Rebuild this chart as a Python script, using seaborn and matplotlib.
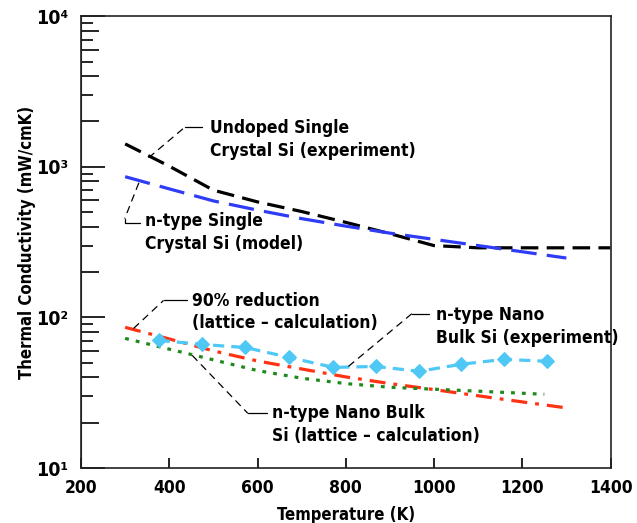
import numpy as np
import pandas as pd
import seaborn as sns
import matplotlib.pyplot as plt
from matplotlib.ticker import FixedLocator, FixedFormatter, NullFormatter

# temperatures (K) and thermal conductivity (mW/cmK)
temp_undoped = [300, 400, 500, 600, 700, 800, 900, 1000, 1100, 1200, 1300, 1400]
k_undoped = [1420, 1010, 700, 585, 505, 428, 360, 300, 290, 290, 290, 290]

temp_single_model = [300, 400, 500, 600, 700, 800, 900, 1000, 1100, 1200, 1300]
k_single_model = [860, 714, 594, 516, 453, 404, 363, 330, 300, 273, 248]

temp_reduction = [300, 400, 500, 600, 700, 800, 900, 1000, 1100, 1200, 1300]
k_reduction = [86, 72, 60, 51.4, 45.5, 40.3, 36.4, 33.2, 30.2, 27.5, 25.1]

temp_nano_lattice = [300, 400, 500, 600, 700, 800, 900, 1000, 1100, 1200, 1250]
k_nano_lattice = [72.6, 61.6, 52.3, 44.4, 39.5, 36.4, 34.4, 33.4, 32.4, 31.4, 30.9]

temp_nano_exp = [376, 474, 572, 672, 772, 868, 966, 1062, 1158, 1255]
k_nano_exp = [70.5, 66.2, 63.2, 54.3, 46.6, 47.3, 43.9, 48.9, 52.7, 51.2]

x_ticks = [200, 400, 600, 800, 1000, 1200, 1400]
y_ticks = [10, 100, 1000, 10000]
y_ticklabels = ['10\u00b9', '10\u00b2', '10\u00b3', '10\u2074']

# annotation labels with leader points (T, k): dashed part, solid part, text anchor
notes = [
    ("Undoped Single\nCrystal Si (experiment)",
     [(353, 1148), (436, 1841)], [(436, 1841), (475, 1841)], (493, 1521)),
    ("n-type Single\nCrystal Si (model)",
     [(331, 783), (299, 453)], [(299, 453), (299, 426), (333, 426)], (344, 366)),
    ("90% reduction\n(lattice \u2013 calculation)",
     [(319, 84.5), (387, 129.7)], [(387, 129.7), (441, 129.7)], (452, 108.6)),
    ("n-type Nano\nBulk Si (experiment)",
     [(806, 47.3), (950, 106.1)], [(950, 106.1), (988, 106.1)], (1004, 87.1)),
    ("n-type Nano Bulk\nSi (lattice \u2013 calculation)",
     [(452, 56), (578, 23.1)], [(578, 23.1), (621, 23.1)], (632, 19.5)),
]

sns.set_style("ticks")
plt.rcParams['font.family'] = ['DejaVu Sans']
plt.rcParams['font.stretch'] = 'condensed'
plt.rcParams['font.weight'] = 'bold'
for key in ['text.color', 'axes.labelcolor', 'xtick.color', 'ytick.color']:
    plt.rcParams[key] = 'black'

fig = plt.figure(figsize=(6.37, 5.23), dpi=100)
ax = fig.add_axes([0.1272, 0.105, 0.8312, 0.864])

lw = 2.3
sns.lineplot(x=temp_undoped, y=k_undoped, color='black', lw=lw,
             linestyle=(0, (5.5, 2.6)), ax=ax)
sns.lineplot(x=temp_single_model, y=k_single_model, color='#2f3cf5', lw=lw,
             linestyle=(0, (8, 3.2)), ax=ax)
sns.lineplot(x=temp_reduction, y=k_reduction, color='#ff3214', lw=lw,
             linestyle=(0, (5, 2.5, 1.2, 2.5)), ax=ax)
sns.lineplot(x=temp_nano_lattice, y=k_nano_lattice, color='#1f8a1a', lw=lw,
             linestyle=(0, (1.2, 2.2)), ax=ax)
sns.lineplot(x=temp_nano_exp, y=k_nano_exp, color='#4fc8f5', lw=lw,
             linestyle=(0, (3.5, 2.2)), marker='D', markersize=7,
             markeredgecolor='#4fc8f5', ax=ax)

for label, dashed, solid, anchor in notes:
    dx, dy = zip(*dashed)
    ax.plot(dx, dy, color='black', lw=0.9, linestyle=(0, (6, 4)))
    sx, sy = zip(*solid)
    ax.plot(sx, sy, color='black', lw=0.9)
    ax.text(anchor[0], anchor[1], label, ha='left', va='center',
            fontsize=12.5, fontweight='bold', linespacing=1.32)

ax.set_yscale('log')
ax.set_xlim(200, 1400)
ax.set_ylim(10, 10000)
ax.xaxis.set_major_locator(FixedLocator(x_ticks))
ax.yaxis.set_major_locator(FixedLocator(y_ticks))
ax.yaxis.set_major_formatter(FixedFormatter(y_ticklabels))
minor_even = [m * 10.0 ** d for d in (1, 2, 3) for m in (2, 4, 6, 8)]
minor_odd = [m * 10.0 ** d for d in (1, 2, 3) for m in (3, 5, 7, 9)]
ax.yaxis.set_minor_locator(FixedLocator(minor_even))
ax.yaxis.set_minor_formatter(NullFormatter())

ax.tick_params(axis='y', which='major', direction='in', length=17, width=1.2,
               labelsize=14, pad=9)
ax.tick_params(axis='y', which='minor', direction='in', length=13, width=1.2)
ax.tick_params(axis='x', which='major', direction='in', length=7.5, width=1.2,
               labelsize=12.5, pad=8)

sec = ax.secondary_yaxis('left')
sec.set_yscale('log')
sec.yaxis.set_major_locator(FixedLocator(minor_odd))
sec.yaxis.set_major_formatter(NullFormatter())
sec.yaxis.set_minor_locator(FixedLocator([]))
sec.tick_params(axis='y', which='major', direction='in', length=8.5, width=1.2)

for s in ax.spines.values():
    s.set_linewidth(1.2)
    s.set_color('#222222')

ax.set_xlabel('Temperature (K)', fontsize=12, fontweight='bold', labelpad=6)
ax.set_ylabel('Thermal Conductivity (mW/cmK)', fontsize=12, fontweight='bold',
              labelpad=0)

fig.savefig('out.png', dpi=100)
